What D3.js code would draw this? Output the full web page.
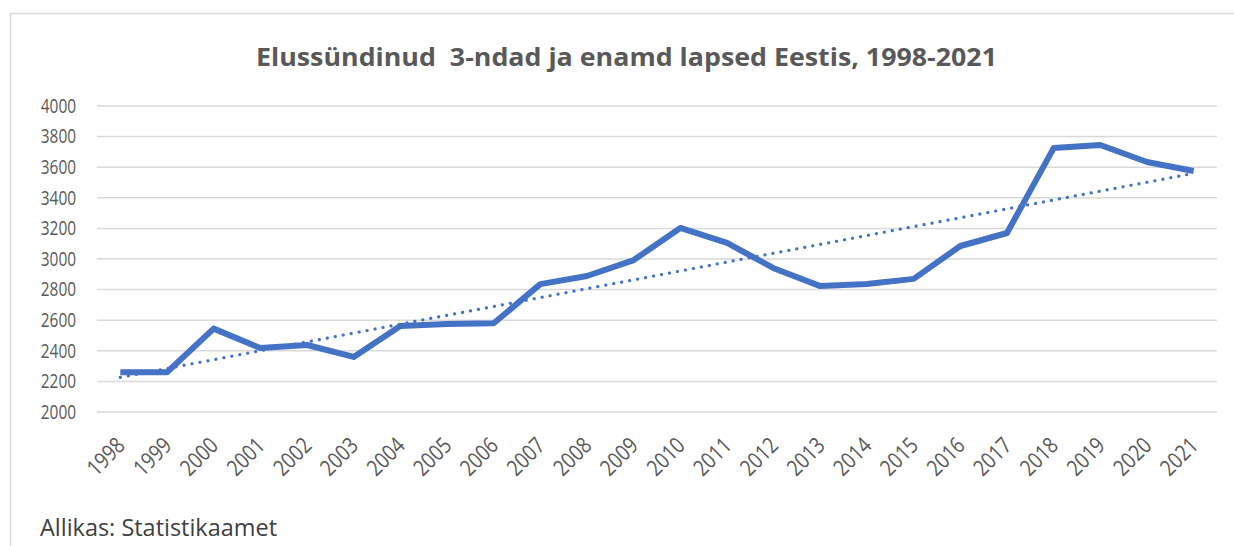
<!DOCTYPE html>
<html lang="et">
<head>
    <meta charset="UTF-8">
    <title>Elussündinud 3-ndad ja enamd lapsed Eestis</title>
    <style>
        body { margin: 0; background: #fff; }
        text { font-family: "Open Sans", "DejaVu Sans", sans-serif; }
    </style>
</head>
<body>
    <div id="chart"></div>
    <script src="https://cdnjs.cloudflare.com/ajax/libs/d3/7.8.5/d3.min.js"></script>
    <script>
        const years = ['1998','1999','2000','2001','2002','2003','2004','2005','2006','2007','2008','2009',
                       '2010','2011','2012','2013','2014','2015','2016','2017','2018','2019','2020','2021'];
        const births = [2260, 2260, 2545, 2418, 2438, 2360, 2562, 2575, 2580, 2836, 2889, 2993,
                        3203, 3105, 2940, 2823, 2837, 2870, 3085, 3170, 3725, 3745, 3634, 3575];
        const yTicks = [2000, 2200, 2400, 2600, 2800, 3000, 3200, 3400, 3600, 3800, 4000];
        const title = 'Elussündinud  3-ndad ja enamd lapsed Eestis, 1998-2021';
        const source = 'Allikas: Statistikaamet';

        const W = 1234, H = 546;
        const font = '"Open Sans", sans-serif';
        const svg = d3.select('#chart').append('svg')
            .attr('width', W).attr('height', H);

        // chart area border
        svg.append('rect')
            .attr('x', 10.5).attr('y', 13.5)
            .attr('width', W).attr('height', H)
            .attr('fill', 'none').attr('stroke', '#d9d9d9').attr('stroke-width', 1.5);

        svg.append('text')
            .attr('x', 256).attr('y', 66)
            .attr('font-size', 25).attr('font-weight', 'bold')
            .attr('fill', '#595959')
            .attr('textLength', 741).attr('lengthAdjust', 'spacingAndGlyphs')
            .style('white-space', 'pre')
            .text(title);

        const x = d3.scaleBand().domain(years).range([97, 1217]);
        const y = d3.scaleLinear().domain([2000, 4000]).range([412, 106]);

        // gridlines
        svg.append('g')
            .selectAll('line')
            .data(yTicks)
            .join('line')
            .attr('x1', 97).attr('x2', 1217)
            .attr('y1', d => y(d)).attr('y2', d => y(d))
            .attr('stroke', '#d9d9d9').attr('stroke-width', 1.5);

        // narrow-looking labels: Open Sans squeezed horizontally
        const yAxis = svg.append('g')
            .attr('transform', 'translate(76,0)')
            .call(d3.axisLeft(y).tickValues(yTicks).tickSize(0).tickPadding(0).tickFormat(d3.format('d')));
        yAxis.select('.domain').remove();
        yAxis.selectAll('text')
            .attr('font-size', 19.5).attr('fill', '#595959')
            .attr('font-family', font)
            .attr('transform', 'scale(0.79,1)');

        const xAxis = svg.append('g')
            .attr('transform', 'translate(0,412)')
            .call(d3.axisBottom(x).tickSize(0).tickPadding(0));
        xAxis.select('.domain').remove();
        xAxis.selectAll('text')
            .attr('font-size', 22.5).attr('fill', '#595959')
            .attr('font-family', font)
            .attr('text-anchor', 'end')
            .attr('dy', 0)
            .attr('transform', 'translate(6,35) rotate(-45) scale(0.83,1)');

        // linear trend (least squares over year index)
        const n = births.length;
        const idx = d3.range(n);
        const mx = d3.mean(idx), my = d3.mean(births);
        const slope = d3.sum(idx, i => (i - mx) * (births[i] - my)) / d3.sum(idx, i => (i - mx) ** 2);
        const icpt = my - slope * mx;
        const trend = years.map((yr, i) => icpt + slope * i);

        const cx = d => x(d) + x.bandwidth() / 2;

        svg.append('path')
            .datum(trend)
            .attr('fill', 'none')
            .attr('stroke', '#4472c4').attr('stroke-width', 3.2)
            .attr('stroke-linecap', 'round')
            .attr('stroke-dasharray', '0.1 8')
            .attr('d', d3.line().x((d, i) => cx(years[i])).y(d => y(d)));

        svg.append('path')
            .datum(births)
            .attr('fill', 'none')
            .attr('stroke', '#4472c4').attr('stroke-width', 6)
            .attr('stroke-linejoin', 'round')
            .attr('d', d3.line().x((d, i) => cx(years[i])).y(d => y(d)));

        svg.append('text')
            .attr('x', 40).attr('y', 536)
            .attr('font-size', 24.5).attr('fill', '#404040')
            .attr('textLength', 237).attr('lengthAdjust', 'spacingAndGlyphs')
            .text(source);
    </script>
</body>
</html>
